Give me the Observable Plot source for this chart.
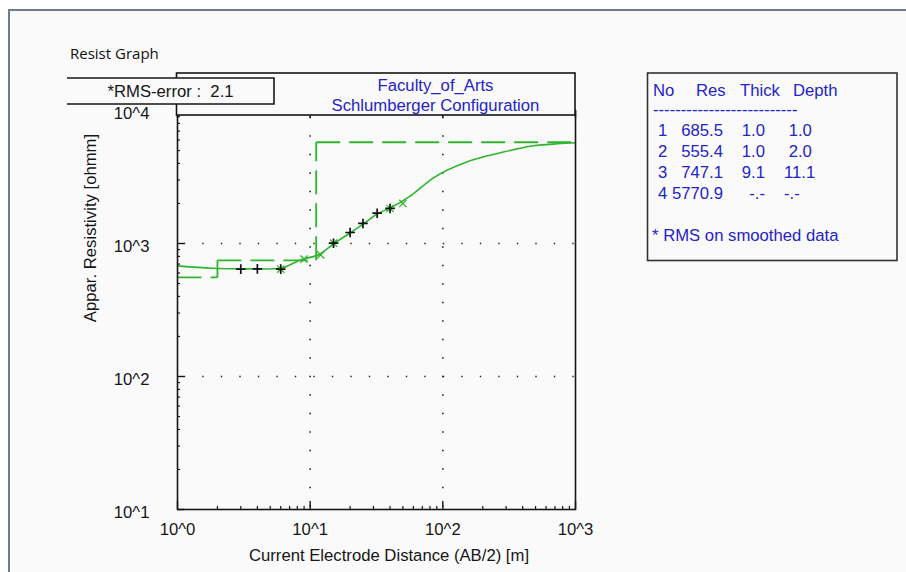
<!DOCTYPE html>
<html>
<head>
<meta charset="utf-8">
<script src="https://cdn.jsdelivr.net/npm/d3@7"></script>
<script src="https://cdn.jsdelivr.net/npm/@observablehq/plot@0.6"></script>
<style>
  html, body { margin: 0; padding: 0; background: #ffffff; }
  #chart { width: 906px; height: 572px; overflow: hidden; }
  #chart svg { display: block; }
</style>
</head>
<body>
<div id="chart"></div>
<script>
// Vertical electrical sounding: field readings, calculated values, smoothed response and layered model
const fieldAB2 = [3, 4, 6, 15, 20, 25, 32, 40];
const fieldRho = [642, 645, 642, 1005, 1210, 1415, 1690, 1835];

const calcAB2 = [6, 9, 12, 15, 40, 50];
const calcRho = [642, 763, 822, 1005, 1833, 2000];

const curveAB2 = [1, 1.84, 3, 4.77, 6, 7, 8.45, 12, 15, 20.1, 25.2, 32.2, 40.3, 57, 85, 153, 272, 482, 731, 1000];
const curveRho = [679, 651, 645, 643, 648, 690, 752, 838, 995, 1204, 1406, 1672, 1855, 2284, 3119, 4116, 4808, 5428, 5619, 5715];

const layerNo = [1, 2, 3, 4];
const layerRes = [685.5, 555.4, 747.1, 5770.9];
const layerThick = [1.0, 1.0, 9.1, null];
const layerDepth = [1.0, 2.0, 11.1, null];

const xTicks = [1, 10, 100, 1000];
const xTickLabels = ["10^0", "10^1", "10^2", "10^3"];
const yTicks = [10, 100, 1000, 10000];
const yTickLabels = ["10^1", "10^2", "10^3", "10^4"];

const rmsError = 2.1;
const chartTitle = "Resist Graph";
const siteName = "Faculty_of_Arts";
const configName = "Schlumberger Configuration";
const xLabel = "Current Electrode Distance (AB/2) [m]";
const yLabel = "Appar. Resistivity [ohmm]";
const rmsNote = "* RMS on smoothed data";

const W = 906, H = 572;
const green = "#2fb52f";
const ink = "#161616";
const blue = "#2424c4";
const paper = "#fafafa";
const font = "'Liberation Sans', Arial, sans-serif";

// minor ticks at 2..9 within each decade
const minorX = [], minorY = [];
for (let e = 0; e < 3; e++) for (let m = 2; m <= 9; m++) minorX.push(m * Math.pow(10, e));
for (let e = 1; e < 4; e++) for (let m = 2; m <= 9; m++) minorY.push(m * Math.pow(10, e));

// layered model as separate segments (each segment restarts its dash pattern)
const xMax = 1000;
const bounds = [layerDepth[0], layerDepth[1], layerDepth[2], xMax];
const modelSegs = [];
for (let k = 1; k < layerRes.length; k++) {
  modelSegs.push({x1: bounds[k - 1], x2: bounds[k], y1: layerRes[k], y2: layerRes[k]});
  if (k + 1 < layerRes.length) modelSegs.push({x1: bounds[k], x2: bounds[k], y1: layerRes[k], y2: layerRes[k + 1]});
}

const curve = curveAB2.map((x, i) => ({x, y: curveRho[i]}));
const field = fieldAB2.map((x, i) => ({x, y: fieldRho[i]}));
const calc = calcAB2.map((x, i) => ({x, y: calcRho[i]}));

const blank = () => "";

const chart = Plot.plot({
  width: W,
  height: H,
  marginLeft: 177,
  marginRight: W - 575,
  marginTop: 110,
  marginBottom: H - 509,
  style: {background: "none", fontFamily: font, fontSize: "16.7px", color: ink, overflow: "visible"},
  x: {type: "log", domain: [1, 1000]},
  y: {type: "log", domain: [10, 10000]},
  marks: [
    Plot.gridX([10, 100], {stroke: "#222", strokeOpacity: 1, strokeWidth: 1.6, strokeDasharray: "1.4,17.1", strokeDashoffset: 11.7}),
    Plot.gridY([100, 1000], {stroke: "#222", strokeOpacity: 1, strokeWidth: 1.6, strokeDasharray: "1.4,17.1", strokeDashoffset: 11.7}),

    Plot.axisX(minorX, {anchor: "bottom", tickSize: 3, dy: -3, tickFormat: blank, label: null, stroke: ink, strokeWidth: 1.2}),
    Plot.axisX(xTicks, {anchor: "bottom", tickSize: 8, dy: -8, tickFormat: blank, label: null, stroke: ink, strokeWidth: 1.4}),
    Plot.axisX(xTicks, {anchor: "top", tickSize: 7, dy: 7, tickFormat: blank, label: null, stroke: ink, strokeWidth: 1.4}),
    Plot.axisY(minorY, {anchor: "left", tickSize: 3, dx: 3, tickFormat: blank, label: null, stroke: ink, strokeWidth: 1.2}),
    Plot.axisY(yTicks, {anchor: "left", tickSize: 7, dx: 7, tickFormat: blank, label: null, stroke: ink, strokeWidth: 1.4}),

    Plot.axisX(xTicks, {anchor: "bottom", tickSize: 0, tickPadding: 14, tickFormat: d => xTickLabels[xTicks.indexOf(d)], label: null, fill: ink, fontSize: 16.7}),
    Plot.axisY(yTicks, {anchor: "left", tickSize: 0, tickPadding: 28, dy: 3, tickFormat: d => yTickLabels[yTicks.indexOf(d)], label: null, fill: ink, fontSize: 16.7}),

    Plot.link(modelSegs, {x1: "x1", y1: "y1", x2: "x2", y2: "y2", stroke: green, strokeWidth: 1.8, strokeDasharray: "24,9"}),
    Plot.line(curve, {x: "x", y: "y", curve: "monotone-x", stroke: green, strokeWidth: 1.6}),
    Plot.dot(calc, {x: "x", y: "y", symbol: "times", r: 3.4, stroke: green, strokeWidth: 1.3}),
    Plot.dot(field, {x: "x", y: "y", symbol: "plus", r: 3.2, stroke: "#111", strokeWidth: 1.7}),

    Plot.frame({stroke: ink, strokeWidth: 1.6})
  ]
});

document.getElementById("chart").appendChild(chart);

const svg = d3.select(chart);

// panel background and window border
svg.insert("rect", ":first-child")
  .attr("x", 10).attr("y", 11).attr("width", W - 10).attr("height", H - 11)
  .attr("fill", paper);

const deco = svg.append("g")
  .attr("font-family", font)
  .attr("text-anchor", "start")
  .style("white-space", "pre");

deco.append("path")
  .attr("d", `M9,${H}V10H${W}`)
  .attr("fill", "none").attr("stroke", "#6e7b95").attr("stroke-width", 2);

deco.append("text")
  .attr("x", 70).attr("y", 59)
  .attr("font-family", "'Open Sans', 'Noto Sans', sans-serif")
  .attr("font-size", 15).attr("fill", "#111")
  .text(chartTitle);

// title box above the plot
deco.append("rect")
  .attr("x", 176.5).attr("y", 73).attr("width", 398.5).attr("height", 42)
  .attr("fill", paper).attr("stroke", ink).attr("stroke-width", 1.6);
deco.append("text")
  .attr("x", 435.5).attr("y", 91).attr("text-anchor", "middle")
  .attr("font-size", 16.7).attr("fill", blue).text(siteName);
deco.append("text")
  .attr("x", 435.5).attr("y", 111).attr("text-anchor", "middle")
  .attr("font-size", 16.7).attr("fill", blue).text(configName);

// RMS box overlapping the title box
deco.append("rect")
  .attr("x", 60).attr("y", 78).attr("width", 214).attr("height", 26)
  .attr("fill", paper);
deco.append("path")
  .attr("d", "M67,78H274V104H67")
  .attr("fill", "none").attr("stroke", ink).attr("stroke-width", 1.6);
deco.append("text")
  .attr("x", 170.5).attr("y", 97).attr("text-anchor", "middle")
  .attr("font-size", 16.7).attr("fill", ink)
  .text(`*RMS-error :  ${rmsError.toFixed(1)}`);

// axis titles
deco.append("text")
  .attr("x", 389).attr("y", 561).attr("text-anchor", "middle")
  .attr("font-size", 16.7).attr("fill", ink).text(xLabel);
deco.append("text")
  .attr("transform", "translate(96,228) rotate(-90)")
  .attr("text-anchor", "middle")
  .attr("font-size", 16.7).attr("fill", ink).text(yLabel);

// layer table
deco.append("rect")
  .attr("x", 647.5).attr("y", 73).attr("width", 249.5).attr("height", 187.5)
  .attr("fill", paper).attr("stroke", "#333").attr("stroke-width", 1.6);
const table = deco.append("g").attr("font-size", 16.7).attr("fill", blue);
table.append("text").attr("x", 653).attr("y", 96).text("No");
table.append("text").attr("x", 696).attr("y", 96).text("Res");
table.append("text").attr("x", 740).attr("y", 96).text("Thick");
table.append("text").attr("x", 793).attr("y", 96).text("Depth");
table.append("text").attr("x", 653).attr("y", 115).text("-".repeat(26));
layerNo.forEach((n, i) => {
  const y = 136 + i * 21;
  table.append("text").attr("x", 658).attr("y", y).text(String(n));
  table.append("text").attr("x", 723).attr("y", y).attr("text-anchor", "end").text(layerRes[i].toFixed(1));
  table.append("text").attr("x", 765).attr("y", y).attr("text-anchor", "end")
    .text(layerThick[i] == null ? "-.-" : layerThick[i].toFixed(1));
  table.append("text").attr("x", 784).attr("y", y)
    .text(layerDepth[i] == null ? "-.-" : layerDepth[i].toFixed(1).padStart(4, " "));
});
table.append("text").attr("x", 652).attr("y", 241).text(rmsNote);
</script>
</body>
</html>
